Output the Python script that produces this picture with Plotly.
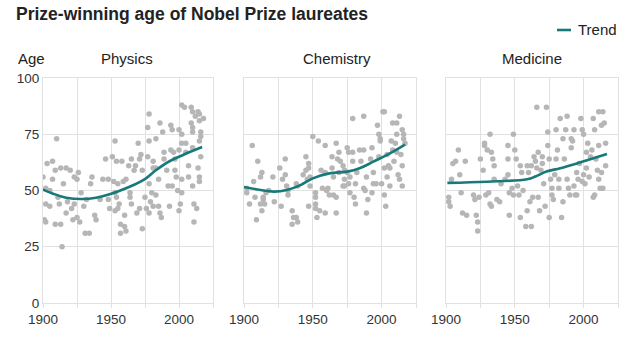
import plotly.graph_objects as go

# ---------------- data ----------------
categories = ["Physics", "Chemistry", "Medicine"]

physics_year = [1900,1903,1907,1910,1907,1909,1913,1917,1920,1902,1905,1902,1905,1912,1911,1915,1918,1921,1917,1901,
                1902,1909,1913,1914,1923,1925,1926,1928,1923,1925,1922,1927,1930,1932,1936,1935,1938,1939,1931,1934,
                1944,1946,1948,1942,1948,1949,1953,1951,1954,1958,1952,1955,1959,1961,1953,1954,1956,1955,1957,1960,
                1961,1957,1953,1960,1963,1965,1967,1968,1964,1964,1965,1969,1971,1970,1971,1972,1973,1973,1976,1975,
                1977,1978,1978,1977,1981,1981,1978,1980,1979,1978,1981,1983,1983,1985,1983,1985,1986,1987,1986,1988,
                1989,1989,1991,1992,1993,1994,1995,1994,1996,1997,1995,1997,1998,1999,2000,2002,2002,2000,2002,2002,
                2001,2000,2002,2004,2005,2005,2007,2007,2009,2009,2010,2010,2010,2010,2010,2011,2011,2013,2012,2014,
                2015,2015,2016,2015,2016,2014,2015,2015,2016,2018]
physics_age = [56,62,63,73,55,59,60,60,59,51,50,44,43,44,47,53,45,42,40,37,
               36,35,35,25,56,55,58,49,44,38,37,36,43,46,56,53,39,37,31,31,
               55,64,55,46,46,42,72,65,63,63,54,53,54,55,49,47,44,42,35,34,
               32,31,41,39,61,64,59,61,49,47,44,40,42,71,64,66,59,33,42,47,
               78,84,72,65,63,60,53,49,45,40,43,73,60,55,48,43,40,38,80,76,
               67,64,59,52,43,79,77,68,67,64,52,59,56,50,77,75,71,68,55,49,
               44,41,88,87,71,67,61,56,80,87,85,76,78,69,52,36,44,42,83,85,
               84,81,76,72,74,60,56,54,65,82]

chemistry_year = [1902,1902,1906,1907,1908,1904,1910,1913,1912,1914,1912,1914,1915,1913,1909,1916,1918,1921,1922,1926,
                  1927,1928,1930,1930,1931,1932,1932,1935,1936,1935,1938,1939,1938,1939,1943,1945,1945,1946,1947,1947,
                  1948,1947,1948,1950,1954,1952,1952,1952,1952,1953,1955,1956,1957,1959,1959,1960,1959,1961,1962,1964,
                  1964,1965,1965,1967,1967,1968,1969,1967,1969,1970,1972,1973,1973,1972,1973,1975,1976,1975,1977,1976,
                  1977,1979,1979,1979,1980,1981,1981,1982,1984,1985,1987,1987,1987,1988,1989,1989,1990,1992,1993,1993,
                  1994,1994,1996,1997,1998,1998,1999,1999,2000,2001,2002,2002,2002,2003,2004,2004,2005,2006,2006,2007,
                  2008,2008,2009,2010,2011,2011,2011,2012,2013,2013,2014,2015,2015,2015,2016,2016,2017]
chemistry_age = [49,51,70,54,47,44,63,58,56,47,44,46,44,41,37,49,50,56,45,60,
                 43,55,64,57,52,50,48,41,38,35,38,36,53,52,57,59,65,55,60,62,
                 52,43,56,74,72,49,47,44,42,38,41,59,51,70,58,50,40,51,48,65,
                 60,56,48,47,71,64,58,40,67,63,61,59,55,52,52,69,67,58,56,53,
                 49,63,82,67,47,44,53,58,68,63,68,83,51,50,40,56,46,64,69,49,
                 58,53,53,79,65,75,73,72,53,85,85,60,48,43,66,56,61,52,60,72,
                 80,68,63,71,80,75,67,57,55,83,66,61,52,77,73,75,71]

medicine_year = [1902,1902,1903,1904,1905,1907,1909,1910,1911,1912,1914,1915,1920,1921,1922,1923,1923,1924,1925,1927,
                 1928,1928,1930,1929,1931,1932,1933,1932,1933,1934,1935,1935,1937,1939,1940,1943,1945,1945,1945,1946,
                 1946,1948,1949,1949,1950,1951,1952,1953,1954,1954,1955,1956,1958,1959,1960,1959,1961,1962,1962,1963,
                 1964,1965,1966,1966,1967,1967,1968,1969,1970,1970,1971,1972,1973,1974,1974,1975,1975,1976,1977,1977,
                 1978,1979,1980,1980,1981,1982,1982,1983,1984,1985,1985,1986,1987,1988,1988,1989,1990,1991,1991,1992,
                 1993,1993,1994,1995,1995,1996,1997,1998,1999,1999,2000,2000,2001,2002,2002,2003,2004,2005,2006,2007,
                 2007,2008,2008,2009,2010,2011,2011,2011,2012,2013,2013,2014,2014,2015,2016,2016]
medicine_age = [47,45,43,55,62,63,68,57,49,40,63,39,48,46,39,36,32,47,64,59,
                71,70,68,48,49,44,43,75,67,64,61,55,46,45,53,55,70,64,57,39,
                49,51,48,75,68,64,52,48,61,38,58,50,34,61,58,41,45,61,34,47,
                65,63,87,60,67,47,41,59,65,62,53,43,87,70,76,64,38,55,51,48,
                46,57,64,77,68,55,51,82,38,45,73,64,77,83,55,51,48,69,73,72,
                77,52,48,48,58,55,62,82,54,77,75,57,53,67,60,71,56,65,68,47,
                82,48,77,64,59,85,70,55,51,79,58,51,85,80,71,61]

physics_trend_year = [1900,1907,1917,1929,1939,1949,1961,1974,1983,1993,2003,2017]
physics_trend_age = [50.4,48.7,46.8,46.2,46.8,48.3,51.0,54.7,59.0,63.0,65.8,69.3]
chemistry_trend_year = [1900,1912,1922,1931,1941,1950,1962,1975,1984,1994,2004,2017]
chemistry_trend_age = [51.6,50.2,49.5,50.2,52.4,55.4,57.6,58.4,59.9,62.8,65.8,70.4]
medicine_trend_year = [1901,1930,1959,1965,1973,1983,1997,2017]
medicine_trend_age = [53.4,53.9,55.0,56.2,58.4,59.9,62.4,66.2]

x_tick_vals = [1900, 1950, 2000]
y_tick_vals = [0, 25, 50, 75, 100]

# ---------------- style ----------------
W, H = 641, 353
FONT = "Liberation Sans, Arial, Helvetica, sans-serif"
TEAL = "#17797a"
POINT = "#b6b6b6"
GRID = "#e1e1e1"
TEXT = "#222222"

def px_x(p):
    return p / W

def px_y(p):
    return 1 - p / H

domains_px = [(43, 213), (244, 416), (446, 618)]
y_dom = [px_y(303), px_y(78)]
title_centers = [127, 337, 532]

fig = go.Figure()

scatter_sets = [(physics_year, physics_age), (chemistry_year, chemistry_age), (medicine_year, medicine_age)]
trend_sets = [(physics_trend_year, physics_trend_age), (chemistry_trend_year, chemistry_trend_age),
              (medicine_trend_year, medicine_trend_age)]

for i in range(3):
    xa = "x" if i == 0 else f"x{i+1}"
    ya = "y" if i == 0 else f"y{i+1}"
    xs, ys = scatter_sets[i]
    fig.add_trace(go.Scatter(x=xs, y=ys, xaxis=xa, yaxis=ya, mode="markers",
                             marker=dict(size=5.5, color=POINT, line=dict(width=0)),
                             showlegend=False, hoverinfo="skip"))
    tx, ty = trend_sets[i]
    fig.add_trace(go.Scatter(x=tx, y=ty, xaxis=xa, yaxis=ya, mode="lines",
                             line=dict(color=TEAL, width=2.6, shape="spline", smoothing=1.1),
                             name="Trend", showlegend=False, hoverinfo="skip"))

layout = dict(
    template="none",
    width=W, height=H,
    margin=dict(l=0, r=0, t=0, b=0, autoexpand=False),
    paper_bgcolor="white", plot_bgcolor="white",
    font=dict(family=FONT, color=TEXT, size=13.5),
    showlegend=False,
)

for i in range(3):
    xkey = "xaxis" if i == 0 else f"xaxis{i+1}"
    ykey = "yaxis" if i == 0 else f"yaxis{i+1}"
    a, b = domains_px[i]
    layout[xkey] = dict(
        domain=[px_x(a), px_x(b)], range=[1900, 2025], anchor="y" if i == 0 else f"y{i+1}",
        automargin=False,
        tickvals=x_tick_vals, ticktext=[str(v) for v in x_tick_vals],
        showgrid=True, gridcolor=GRID, gridwidth=1,
        ticks="outside", ticklen=4, tickcolor=GRID,
        minor=dict(dtick=25, tick0=1900, showgrid=True, gridcolor=GRID, ticks="outside",
                   ticklen=4, tickcolor=GRID),
        showline=True, linecolor=GRID, mirror=True, zeroline=False,
        tickfont=dict(size=13.5, color="#333333"),
        fixedrange=True,
    )
    layout[ykey] = dict(
        domain=y_dom, range=[0, 100], anchor="x" if i == 0 else f"x{i+1}",
        automargin=False,
        tickvals=y_tick_vals, showticklabels=(i == 0),
        showgrid=True, gridcolor=GRID, gridwidth=1, ticks="",
        showline=True, linecolor=GRID, mirror=True, zeroline=False,
        tickfont=dict(size=13.5, color="#333333"),
        fixedrange=True,
    )

fig.update_layout(**layout)

annotations = [
    dict(text="<b>Prize-winning age of Nobel Prize laureates</b>", x=px_x(14), y=px_y(14),
         xanchor="left", yanchor="middle", font=dict(size=17.5, color=TEXT)),
    dict(text="Age", x=px_x(16), y=px_y(59), xanchor="left", yanchor="middle",
         font=dict(size=15, color=TEXT)),
    dict(text="Trend", x=px_x(576), y=px_y(30), xanchor="left", yanchor="middle",
         font=dict(size=15, color=TEXT)),
]
for i, name in enumerate(categories):
    annotations.append(dict(text=name, x=px_x(title_centers[i]), y=px_y(59), xanchor="center",
                            yanchor="middle", font=dict(size=15, color=TEXT)))
for a in annotations:
    a.update(xref="paper", yref="paper", showarrow=False)
fig.update_layout(annotations=annotations)

fig.add_shape(type="line", xref="paper", yref="paper", x0=px_x(557), x1=px_x(571),
              y0=px_y(30), y1=px_y(30), line=dict(color=TEAL, width=2.6))

fig.write_html("out.html")
